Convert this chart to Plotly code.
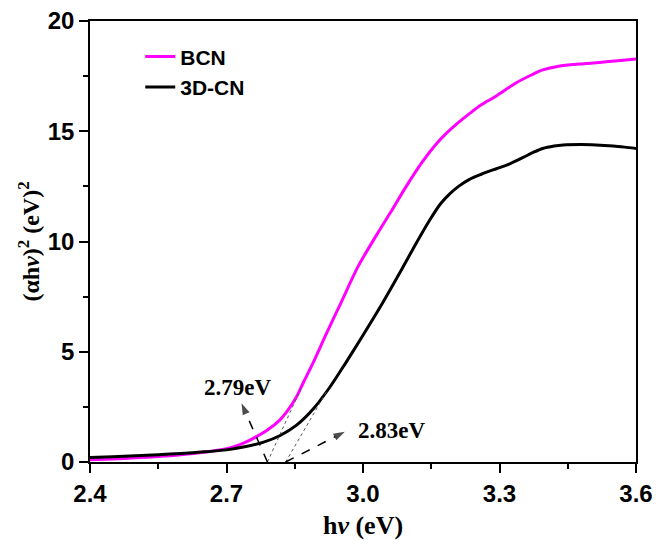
import plotly.graph_objects as go

# ---- data ----
bcn_energy = [2.40, 2.45, 2.50, 2.55, 2.60, 2.65, 2.70, 2.72, 2.74, 2.766, 2.79, 2.817, 2.835,
              2.854, 2.87, 2.89, 2.92, 2.95, 2.989, 3.03, 3.06, 3.095, 3.13, 3.16, 3.183, 3.21,
              3.234, 3.26, 3.293, 3.337, 3.37, 3.395, 3.43, 3.476, 3.52, 3.56, 3.60]
bcn_values = [0.10, 0.14, 0.19, 0.25, 0.33, 0.44, 0.60, 0.72, 0.88, 1.15, 1.45, 1.90, 2.35,
              2.96, 3.65, 4.48, 5.84, 7.15, 8.86, 10.3, 11.3, 12.5, 13.6, 14.4, 14.9, 15.4,
              15.8, 16.2, 16.6, 17.2, 17.55, 17.78, 17.95, 18.05, 18.12, 18.2, 18.28]

cn3d_energy = [2.40, 2.45, 2.50, 2.55, 2.60, 2.65, 2.70, 2.74, 2.78, 2.817, 2.854, 2.89, 2.927,
               2.96, 3.00, 3.04, 3.084, 3.115, 3.146, 3.17, 3.19, 3.21, 3.234, 3.26, 3.293, 3.32,
               3.351, 3.375, 3.395, 3.42, 3.44, 3.48, 3.512, 3.55, 3.575, 3.60]
cn3d_values = [0.20, 0.24, 0.28, 0.33, 0.39, 0.46, 0.55, 0.69, 0.89, 1.19, 1.67, 2.39, 3.39,
               4.43, 5.75, 7.11, 8.7, 9.85, 10.95, 11.7, 12.15, 12.5, 12.82, 13.05, 13.3, 13.5,
               13.8, 14.05, 14.22, 14.33, 14.38, 14.4, 14.38, 14.33, 14.28, 14.22]

# tangent (Tauc extrapolation) lines
tangent_bcn_x = [2.79, 2.865]
tangent_bcn_y = [0.0, 3.4]
tangent_cn_x = [2.83, 2.92]
tangent_cn_y = [0.0, 3.2]

# band-gap labels and arrows (tail at gap, head toward label)
gap_labels = ["2.79eV", "2.83eV"]
gap_values = [2.79, 2.83]
arrow_heads_x = [2.733, 2.96]
arrow_heads_y = [2.66, 1.37]
label_x = [2.725, 2.985]
label_y = [3.4, 1.45]

x_ticks = [2.4, 2.7, 3.0, 3.3, 3.6]
y_ticks = [0, 5, 10, 15, 20]

SANS = "Liberation Sans, Arial, sans-serif"
SERIF = "Liberation Serif, Times New Roman, serif"

fig = go.Figure()

fig.add_trace(go.Scatter(x=bcn_energy, y=bcn_values, mode="lines", name="BCN",
                         line=dict(color="#FF00FF", width=3, shape="spline", smoothing=0.8),
                         legendgroup="a"))
fig.add_trace(go.Scatter(x=cn3d_energy, y=cn3d_values, mode="lines", name="3D-CN",
                         line=dict(color="black", width=3, shape="spline", smoothing=0.8),
                         legendgroup="b"))

for tx, ty in [(tangent_bcn_x, tangent_bcn_y), (tangent_cn_x, tangent_cn_y)]:
    fig.add_trace(go.Scatter(x=tx, y=ty, mode="lines", showlegend=False,
                             line=dict(color="#555555", width=1, dash="dot"),
                             hoverinfo="skip"))

# dashed arrows with arrowhead markers
for g, hx, hy in zip(gap_values, arrow_heads_x, arrow_heads_y):
    fig.add_trace(go.Scatter(x=[g, hx], y=[0, hy], mode="lines+markers", showlegend=False,
                             line=dict(color="black", width=1.5, dash="dash"),
                             marker=dict(symbol="arrow", angleref="previous", size=[0, 12],
                                         color="black", line=dict(width=0)),
                             hoverinfo="skip"))

for t, lx, ly, anc in zip(gap_labels, label_x, label_y, ["center", "left"]):
    fig.add_annotation(x=lx, y=ly, text=t, showarrow=False, xanchor=anc, yanchor="middle",
                       font=dict(family=SERIF, size=23, color="black", weight="bold"))

axis_common = dict(showline=True, linecolor="black", linewidth=1.5, mirror=True,
                   ticks="outside", ticklen=9, tickwidth=1.5, tickcolor="black",
                   showgrid=False, zeroline=False,
                   tickfont=dict(family=SANS, size=24, color="black", weight="bold"))

fig.update_xaxes(range=[2.4, 3.6], tickvals=x_ticks, automargin=False,
                 ticktext=[f"{v:.1f}" for v in x_ticks],
                 minor=dict(ticks="outside", ticklen=5, tickwidth=1.5, tickcolor="black",
                            dtick=0.15, tick0=2.4),
                 title=dict(text="h<i>ν</i> (eV)", standoff=10,
                            font=dict(family=SERIF, size=26, color="black", weight="bold")),
                 **axis_common)
fig.update_yaxes(range=[0, 20], tickvals=y_ticks, automargin="left",
                 minor=dict(ticks="outside", ticklen=5, tickwidth=1.5, tickcolor="black",
                            dtick=2.5, tick0=0),
                 title=dict(text="(αh<i>ν</i>)<sup>2</sup> (eV)<sup>2</sup>", standoff=1,
                            font=dict(family=SERIF, size=24, color="black", weight="bold")),
                 **axis_common)

fig.update_layout(
    width=656, height=540,
    margin=dict(l=90, r=20, t=21, b=78),
    plot_bgcolor="white", paper_bgcolor="white",
    legend=dict(x=0.092, y=0.965, xanchor="left", yanchor="top",
                bgcolor="rgba(0,0,0,0)", traceorder="grouped", tracegroupgap=0,
                font=dict(family=SANS, size=21, color="black", weight="bold")),
)

fig.write_html("out.html")
